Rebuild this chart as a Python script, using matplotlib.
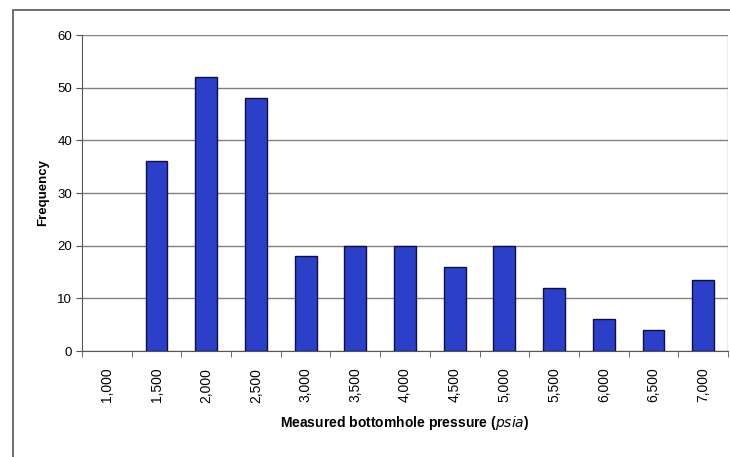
import matplotlib.pyplot as plt
from matplotlib.patches import Rectangle
import numpy as np

plt.rcParams['font.family'] = ['Liberation Sans', 'DejaVu Sans']

pressures = ['1,000', '1,500', '2,000', '2,500', '3,000', '3,500', '4,000',
             '4,500', '5,000', '5,500', '6,000', '6,500', '7,000']
frequency = [0, 36, 52, 48, 18, 20, 20, 16, 20, 12, 6, 4, 13.5]

fig = plt.figure(figsize=(7.3, 4.57), dpi=100)
# outer chart border
fig.patches.append(Rectangle((13 / 730, -0.05), 1.0, 1 - 10 / 457 + 0.05,
                             transform=fig.transFigure, fill=False,
                             edgecolor='#555555', linewidth=1.2))

ax = fig.add_axes([82 / 730, 1 - 351 / 457, 646 / 730, (351 - 35) / 457])
x = np.arange(len(pressures))
edge_w = [1.0 if f > 0 else 0 for f in frequency]
ax.bar(x, frequency, width=0.44, color='#2b3fc8', edgecolor='#101040', linewidth=edge_w, zorder=3)

ax.set_xlim(-0.5, len(pressures) - 0.5)
ax.set_ylim(0, 60)
ax.set_yticks(range(0, 61, 10))
ax.yaxis.grid(True, color='#808080', linewidth=1.0, zorder=0)

ax.set_xticks(x)
ax.set_xticklabels(pressures, rotation=90, fontsize=10)
ax.set_xticks(np.arange(-0.5, len(pressures), 1), minor=True)
ax.tick_params(axis='x', which='major', length=0, pad=12)
ax.tick_params(axis='x', which='minor', length=4, color='#555555')
ax.tick_params(axis='y', labelsize=9.5, length=4, color='#555555', pad=3)

for side in ['top', 'right']:
    ax.spines[side].set_visible(False)
ax.spines['left'].set_color('#555555')
ax.spines['bottom'].set_color('#555555')
ax.axvline(len(pressures) - 0.5, color='#999999', linewidth=1.0)

ax.set_ylabel('Frequency', fontsize=9.5, fontweight='bold', labelpad=6)
ax.set_xlabel('Measured bottomhole pressure ($\\it{psia}$)', fontsize=10,
              fontweight='bold', labelpad=8)

fig.savefig('out.png', dpi=100)
